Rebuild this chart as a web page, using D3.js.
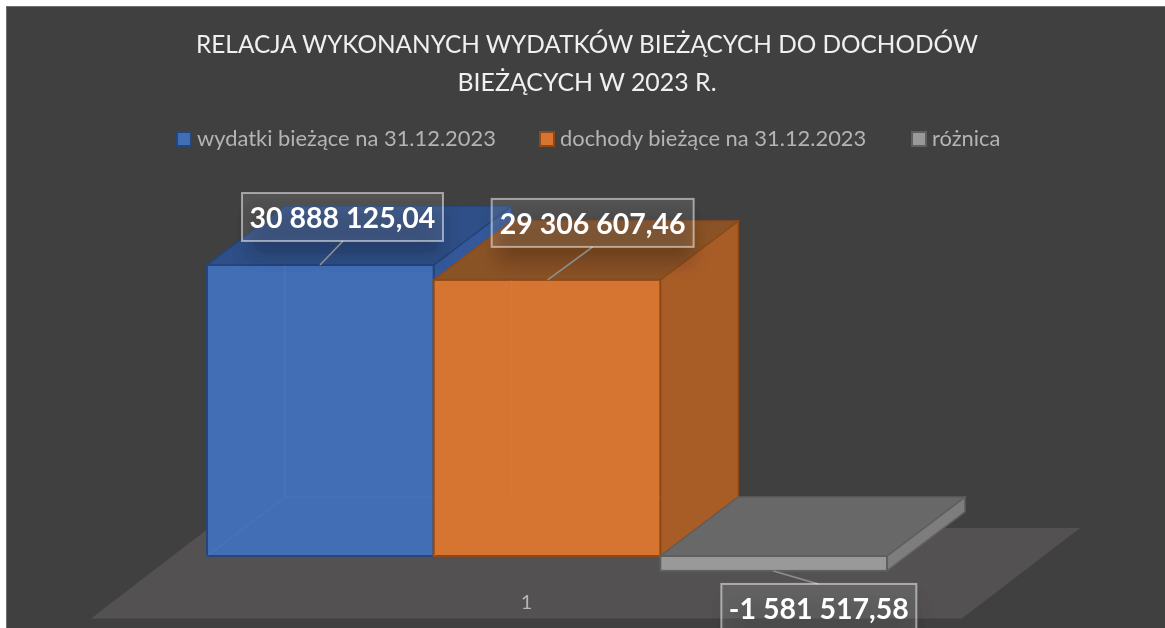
<!DOCTYPE html>
<html>
<head>
<meta charset="utf-8">
<script src="https://cdn.jsdelivr.net/npm/d3@7/dist/d3.min.js"></script>
<style>
html, body { margin: 0; padding: 0; background: #fff; overflow: hidden; }
svg { display: block; font-family: Lato, "Open Sans", sans-serif; }
</style>
</head>
<body>
<div id="chart"></div>
<script>
var categories = ["1"];
var seriesNames = ["wydatki bieżące na 31.12.2023", "dochody bieżące na 31.12.2023", "różnica"];
var seriesValues = [30888125.04, 29306607.46, -1581517.58];
var valueLabels = ["30 888 125,04", "29 306 607,46", "-1 581 517,58"];
var titleLines = ["RELACJA WYKONANYCH WYDATKÓW BIEŻĄCYCH DO DOCHODÓW", "BIEŻĄCYCH W 2023 R."];

var width = 1165, height = 628;
var depthX = 78, depthY = -59;

var colors = [
    { front: "#426eb6", side: "#34599a", top: "#2f4f87", line: "#264478", inner: "#5a84c6" },
    { front: "#d67430", side: "#a85d28", top: "#8a5226", line: "#8f4a17", inner: "#ea7d28" },
    { front: "#999999", side: "#7d7d7d", top: "#686868", line: "#5e5e5e", inner: "#999999" }
];

var svg = d3.select("#chart").append("svg")
    .attr("width", width)
    .attr("height", height);

var defs = svg.append("defs");
defs.append("filter").attr("id", "labelShadow")
    .attr("x", "-20%").attr("y", "-50%").attr("width", "140%").attr("height", "200%")
    .append("feGaussianBlur").attr("stdDeviation", 9);
defs.append("filter").attr("id", "soft")
    .append("feGaussianBlur").attr("stdDeviation", 0.45);

var root = svg.append("g").attr("filter", "url(#soft)");

// chart area
root.append("rect")
    .attr("x", 6.5).attr("y", 6.5)
    .attr("width", width).attr("height", height)
    .attr("fill", "#404040")
    .attr("stroke", "#6f6f6f");

// scales
var y = d3.scaleLinear().domain([0, 30888125.04]).range([556, 265]);
var x = d3.scaleBand().domain(seriesNames).range([207, 887]).padding(0);
var xCat = d3.scaleBand().domain(categories).range([91, 962]);

function pts(a) {
    return a.map(function (p) { return p.join(","); }).join(" ");
}

// floor
var floorFront = 618.5;
var floorBack = 528;
root.append("polygon")
    .attr("points", pts([[91, floorFront], [962, floorFront], [1080, floorBack], [209, floorBack]]))
    .attr("fill", "#535151");

// category axis
var axis = root.append("g")
    .attr("transform", "translate(0,592)")
    .call(d3.axisBottom(xCat).tickSize(0));
axis.select(".domain").remove();
axis.selectAll("text")
    .attr("font-family", "Lato")
    .attr("font-size", 20)
    .attr("fill", "#b5b5b5");

// 3d bars, back faces first so they show through the front
seriesNames.forEach(function (name, i) {
    var x0 = x(name), x1 = x0 + x.bandwidth();
    var top = y(Math.max(seriesValues[i], 0));
    var bottom = y(Math.min(seriesValues[i], 0));
    var c = colors[i];
    var g = root.append("g").attr("class", "bar");

    g.append("polygon")
        .attr("points", pts([[x1, top], [x1 + depthX, top + depthY], [x1 + depthX, bottom + depthY], [x1, bottom]]))
        .attr("fill", c.side).attr("stroke", c.line).attr("stroke-width", 1.5);
    g.append("polygon")
        .attr("points", pts([[x0, top], [x1, top], [x1 + depthX, top + depthY], [x0 + depthX, top + depthY]]))
        .attr("fill", c.top).attr("stroke", c.line).attr("stroke-width", 1.5);
    g.append("rect")
        .attr("x", x0).attr("y", top)
        .attr("width", x.bandwidth()).attr("height", bottom - top)
        .attr("fill", c.front).attr("stroke", c.line).attr("stroke-width", 2);

    // faint hidden edges seen through the bar
    if (bottom - top > 100) {
        var inner = g.append("g")
            .attr("stroke", c.inner).attr("stroke-width", 1.2)
            .attr("stroke-opacity", 0.3).attr("fill", "none");
        inner.append("path")
            .attr("d", "M" + x0 + "," + bottom + "L" + (x0 + depthX) + "," + (bottom + depthY) +
                "L" + (x0 + depthX) + "," + top +
                "M" + (x0 + depthX) + "," + (bottom + depthY) + "L" + x1 + "," + (bottom + depthY));
    }
});

// data labels
var labelLayout = [
    { left: 35, top: -72, w: 201, anchor: 113, elbow: 136 },
    { left: 58, top: -81, w: 202, anchor: 114, elbow: 159 },
    { left: 61, top: 13, w: 195, anchor: 113, elbow: 158 }
];

seriesNames.forEach(function (name, i) {
    var l = labelLayout[i];
    var x0 = x(name);
    var negative = seriesValues[i] < 0;
    var edge = y(seriesValues[i]);
    var boxX = x0 + l.left, boxY = edge + l.top, boxH = 48;
    var g = root.append("g").attr("class", "data-label");

    g.append("rect")
        .attr("x", boxX + 6).attr("y", boxY + 16)
        .attr("width", l.w - 6).attr("height", boxH)
        .attr("fill", "#000").attr("opacity", negative ? 0.12 : 0.2)
        .attr("filter", "url(#labelShadow)");
    g.append("line")
        .attr("x1", x0 + l.anchor).attr("y1", edge)
        .attr("x2", x0 + l.elbow).attr("y2", negative ? boxY : boxY + boxH)
        .attr("stroke", "#8f8f8f").attr("stroke-width", 1.6);
    g.append("rect")
        .attr("x", boxX).attr("y", boxY)
        .attr("width", l.w).attr("height", boxH)
        .attr("fill", "#ffffff").attr("fill-opacity", 0.1)
        .attr("stroke", "#ffffff").attr("stroke-opacity", 0.5).attr("stroke-width", 2);
    g.append("text")
        .attr("x", boxX + l.w / 2).attr("y", boxY + 35)
        .attr("text-anchor", "middle")
        .attr("font-size", 28.5).attr("font-weight", 700)
        .attr("fill", "#fff")
        .text(valueLabels[i]);
});

// title
var titleWidths = [782, 259];
root.selectAll("text.title").data(titleLines).enter().append("text")
    .attr("class", "title")
    .attr("x", 587)
    .attr("y", function (d, i) { return 53 + i * 37.5; })
    .attr("text-anchor", "middle")
    .attr("font-size", 25)
    .attr("textLength", function (d, i) { return titleWidths[i]; })
    .attr("lengthAdjust", "spacingAndGlyphs")
    .attr("fill", "#f0f0f0")
    .text(function (d) { return d; });

// legend
var legendX = [176, 539, 911];
var legend = root.selectAll("g.legend").data(seriesNames).enter().append("g")
    .attr("class", "legend")
    .attr("transform", function (d, i) { return "translate(" + legendX[i] + ",131)"; });
legend.append("rect")
    .attr("x", 1).attr("y", 1).attr("width", 14).attr("height", 14)
    .attr("fill", function (d, i) { return colors[i].front; })
    .attr("stroke", function (d, i) { return colors[i].line; })
    .attr("stroke-width", 2);
legend.append("text")
    .attr("x", 21).attr("y", 15)
    .attr("font-size", 21.9)
    .attr("fill", "#b4b4b4")
    .text(function (d) { return d; });
</script>
</body>
</html>
